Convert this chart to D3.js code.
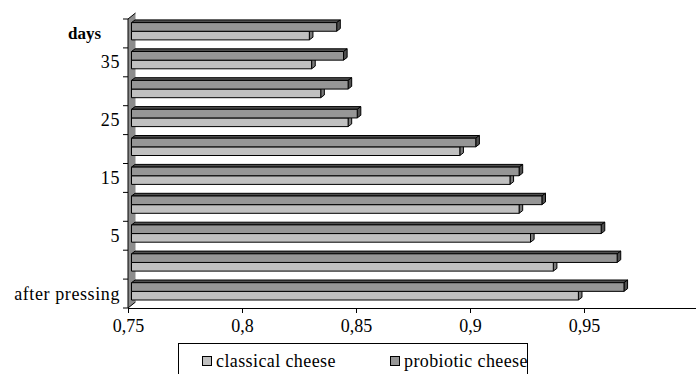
<!DOCTYPE html>
<html>
<head>
<meta charset="utf-8">
<script src="https://cdn.jsdelivr.net/npm/d3@7"></script>
<style>
  html, body { margin: 0; padding: 0; background: #fff; }
  svg { display: block; }
  svg text { font-family: "Liberation Serif", "Times New Roman", serif !important; fill: #000; }
</style>
</head>
<body>
<svg id="chart" width="696" height="374"></svg>
<script>
// Sampling points (bottom to top); only every other one carries a label
const categoryLabels = ["after pressing", "", "5", "", "15", "", "25", "", "35", ""];
const axisTitle = "days";

// Series values, same order as categoryLabels
const seriesNames = ["classical cheese", "probiotic cheese"];
const classical = [0.946, 0.935, 0.925, 0.920, 0.916, 0.894, 0.845, 0.833, 0.829, 0.828];
const probiotic = [0.966, 0.963, 0.956, 0.930, 0.920, 0.901, 0.849, 0.845, 0.843, 0.840];

// Value axis
const xDomain = [0.75, 1.0];
const xTicks = [0.75, 0.8, 0.85, 0.9, 0.95];

const series = [classical, probiotic];
const frontFill = ["#c0c0c0", "#969696"];
const sideFill  = ["#7a7a7a", "#4f4f4f"];
const serif = "'Liberation Serif','Times New Roman',serif";

const svg = d3.select("#chart");

const x = d3.scaleLinear().domain(xDomain).range([128, 698]);
const idx = d3.range(categoryLabels.length);
const y = d3.scaleBand().domain(idx.slice().reverse()).range([19, 308]);
// probiotic sits above classical within each band
const inner = d3.scaleBand().domain([1, 0]).range([6.2, 23.5]);

// 3-D offsets
const wallDx = 7.5, wallDy = -6;
const barDx = 3.5, barDy = -2.6;
const capDx = 3.6, capDy = -2.7;

const x0 = x(xDomain[0]);
const yTop = y.range()[0], yBot = y.range()[1];

// side wall
svg.append("polygon")
  .attr("points", [[x0, yBot], [x0, yTop], [x0 + wallDx, yTop + wallDy], [x0 + wallDx, yBot + wallDy]].join(" "))
  .attr("fill", "#8c8c8c");
svg.append("path")
  .attr("d", `M${x0},${yBot}V${yTop}L${x0 + wallDx},${yTop + wallDy}`)
  .attr("fill", "none").attr("stroke", "#000").attr("stroke-width", 1);
// floor edge
svg.append("path")
  .attr("d", `M${x0},${yBot}L${x0 + wallDx},${yBot + wallDy}`)
  .attr("fill", "none").attr("stroke", "#000").attr("stroke-width", 1);

// bars
const bars = svg.append("g");
idx.slice().reverse().forEach(i => {
  [0, 1].forEach(s => {
    const v = series[s][i];
    const fy = y(i) + inner(s) + barDy;
    const fh = inner.bandwidth();
    const fx0 = x0 + barDx;
    const fx1 = x(v) + barDx;
    const g = bars.append("g")
      .attr("stroke", "#000").attr("stroke-width", 1).attr("stroke-linejoin", "round");
    g.append("polygon")
      .attr("points", [[fx0, fy], [fx1, fy], [fx1 + capDx, fy + capDy], [fx0 + capDx, fy + capDy]].join(" "))
      .attr("fill", sideFill[s]);
    g.append("polygon")
      .attr("points", [[fx1, fy], [fx1, fy + fh], [fx1 + capDx, fy + fh + capDy], [fx1 + capDx, fy + capDy]].join(" "))
      .attr("fill", sideFill[s]);
    g.append("rect")
      .attr("x", fx0).attr("y", fy).attr("width", fx1 - fx0).attr("height", fh)
      .attr("fill", frontFill[s]);
  });
});

// category axis
const yAxis = d3.axisLeft(y).tickSize(5).tickFormat(i => categoryLabels[i]);
const gy = svg.append("g").attr("transform", `translate(${x0},0)`).call(yAxis)
  .attr("font-family", serif);
gy.select(".domain").remove();
gy.selectAll(".tick line").remove();
gy.selectAll(".tick text")
  .attr("x", -8).attr("dy", "0.34em")
  .attr("font-size", 18).attr("letter-spacing", "0.6px")
  .style("font-family", serif);
// tick marks at band boundaries
const bounds = idx.map(i => y(i)).concat([yBot]);
svg.append("g").selectAll("line").data(bounds).join("line")
  .attr("x1", x0 - 5).attr("x2", x0).attr("y1", d => d).attr("y2", d => d)
  .attr("stroke", "#000").attr("stroke-width", 1);

svg.append("text")
  .attr("x", 101).attr("y", y(idx.length - 1) + y.bandwidth() / 2)
  .attr("dy", "0.34em").attr("text-anchor", "end")
  .attr("font-size", 17).attr("font-weight", "bold")
  .style("font-family", serif)
  .text(axisTitle);

// value axis
const xAxis = d3.axisBottom(x).tickValues(xTicks).tickSize(5).tickPadding(6)
  .tickFormat(d => d3.format("")(d).replace(".", ","));
const gx = svg.append("g").attr("transform", `translate(0,${yBot})`).call(xAxis)
  .attr("font-family", serif);
gx.select(".domain").attr("d", `M${x0},0.5H696`).attr("stroke", "#000");
gx.selectAll(".tick line").attr("stroke", "#000");
gx.selectAll(".tick text").attr("font-size", 18).style("font-family", serif);

// legend
const lg = svg.append("g");
lg.append("rect").attr("x", 178.5).attr("y", 343.5).attr("width", 349).attr("height", 40)
  .attr("fill", "#fff").attr("stroke", "#000").attr("stroke-width", 1);
const legendX = [202, 390];
seriesNames.forEach((name, s) => {
  lg.append("rect").attr("x", legendX[s] + 0.5).attr("y", 356.5).attr("width", 9).attr("height", 9)
    .attr("fill", frontFill[s]).attr("stroke", "#000").attr("stroke-width", 1);
  lg.append("text").attr("x", legendX[s] + 14).attr("y", 366.5)
    .attr("font-size", 18).attr("letter-spacing", "0.4px")
    .style("font-family", serif).text(name);
});
</script>
</body>
</html>
